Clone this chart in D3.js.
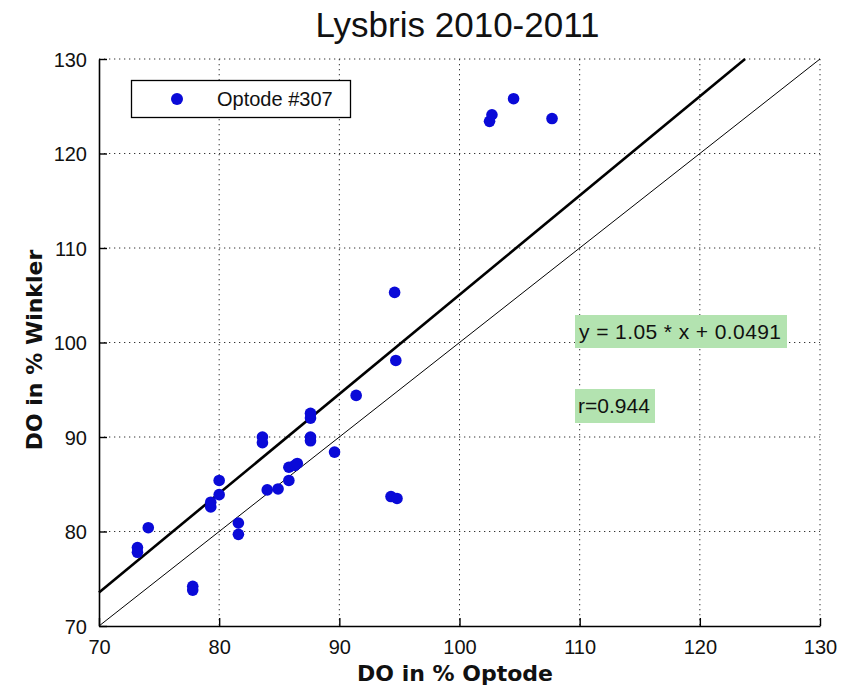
<!DOCTYPE html>
<html>
<head>
<meta charset="utf-8">
<script src="https://cdn.jsdelivr.net/npm/d3@7"></script>
<style>
  html, body { margin: 0; padding: 0; background: #fff; }
  svg { display: block; }
</style>
</head>
<body>
<svg id="chart" width="850" height="688"></svg>
<script>
// ---- data ----
const titleText = "Lysbris 2010-2011";
const xLabel = "DO in % Optode";
const yLabel = "DO in % Winkler";
const seriesName = "Optode #307";
const optodeX = [73.2, 73.2, 74.1, 77.8, 77.8, 79.3, 79.3, 80.0, 80.0, 81.6, 81.6, 83.6, 83.6, 84.0, 84.9, 85.8, 85.8, 86.3, 86.5, 87.6, 87.6, 87.6, 87.6, 89.6, 91.4, 94.3, 94.8, 94.6, 94.7, 102.5, 102.7, 104.5, 107.7];
const winklerY = [78.3, 77.8, 80.4, 74.2, 73.8, 82.6, 83.1, 83.9, 85.4, 80.9, 79.7, 90.0, 89.4, 84.4, 84.5, 85.4, 86.8, 87.0, 87.2, 89.6, 90.0, 92.0, 92.5, 88.4, 94.4, 83.7, 83.5, 105.3, 98.1, 123.4, 124.1, 125.8, 123.7];
const fitSlope = 1.05;
const fitIntercept = 0.0491;
const rValue = 0.944;
const xTicks = [70, 80, 90, 100, 110, 120, 130];
const yTicks = [70, 80, 90, 100, 110, 120, 130];
const xDomain = [70, 130];
const yDomain = [70, 130];

// ---- layout ----
const svg = d3.select("#chart");
const L = 99, R = 820, T = 59, B = 626;
const x = d3.scaleLinear().domain(xDomain).range([L, R]);
const y = d3.scaleLinear().domain(yDomain).range([B, T]);

// grid (dotted)
const grid = svg.append("g");
grid.selectAll("line.gx").data(xTicks.slice(1)).join("line")
  .attr("x1", d => x(d)).attr("x2", d => x(d)).attr("y1", T).attr("y2", B)
  .attr("stroke", "#333").attr("stroke-width", 1).attr("stroke-dasharray", "1.3,3.7");
grid.selectAll("line.gy").data(yTicks.slice(1)).join("line")
  .attr("y1", d => y(d)).attr("y2", d => y(d)).attr("x1", L).attr("x2", R)
  .attr("stroke", "#333").attr("stroke-width", 1).attr("stroke-dasharray", "1.3,3.7");

// axes
const xAxis = d3.axisBottom(x).tickValues(xTicks).tickSizeInner(-8).tickSizeOuter(0).tickPadding(14);
const yAxis = d3.axisLeft(y).tickValues(yTicks).tickSizeInner(-8).tickSizeOuter(0).tickPadding(12);
const gx = svg.append("g").attr("transform", `translate(0,${B})`).call(xAxis);
const gy = svg.append("g").attr("transform", `translate(${L},0)`).call(yAxis);
[gx, gy].forEach(g => {
  g.select(".domain").attr("stroke", "#000").attr("stroke-width", 1.6);
  g.selectAll(".tick line").attr("stroke", "#000").attr("stroke-width", 1.4);
  g.selectAll(".tick text").attr("font-family", "Liberation Sans, Arial, sans-serif")
    .attr("font-size", 20).attr("fill", "#111");
});
gy.selectAll(".tick text").attr("dy", "0.36em");

// fit line (y = slope*x + intercept) and 1:1 line
const fitEndX = (yDomain[1] - fitIntercept) / fitSlope;
const line = d3.line().x(d => x(d[0])).y(d => y(d[1]));
svg.append("path")
  .attr("d", line([[xDomain[0], xDomain[0]], [xDomain[1], xDomain[1]]]))
  .attr("stroke", "#000").attr("stroke-width", 1).attr("fill", "none");
svg.append("path")
  .attr("d", line([[xDomain[0], fitSlope * xDomain[0] + fitIntercept], [fitEndX, yDomain[1]]]))
  .attr("stroke", "#000").attr("stroke-width", 2.6).attr("fill", "none");

// points
svg.append("g").selectAll("circle").data(optodeX.map((v, i) => [v, winklerY[i]])).join("circle")
  .attr("cx", d => x(d[0])).attr("cy", d => y(d[1])).attr("r", 5.8)
  .attr("fill", "#0a0ad8");

// legend
const lg = svg.append("g");
lg.append("rect").attr("x", 131.5).attr("y", 80.5).attr("width", 219).attr("height", 37)
  .attr("fill", "#fff").attr("stroke", "#000").attr("stroke-width", 1.3);
lg.append("circle").attr("cx", 177).attr("cy", 99).attr("r", 6).attr("fill", "#0a0ad8");
lg.append("text").attr("x", 217).attr("y", 106).text(seriesName)
  .attr("font-family", "Liberation Sans, Arial, sans-serif").attr("font-size", 20).attr("fill", "#111");

// annotations
const ann = svg.append("g").attr("font-family", "Liberation Sans, Arial, sans-serif").attr("font-size", 21).attr("fill", "#111");
ann.append("rect").attr("x", 575).attr("y", 315).attr("width", 212).attr("height", 33).attr("fill", "#b3e3b0");
ann.append("text").attr("x", 579).attr("y", 339).attr("textLength", 202)
  .text(`y = ${fitSlope.toFixed(2)} * x + ${fitIntercept}`);
ann.append("rect").attr("x", 575).attr("y", 389).attr("width", 80).attr("height", 34).attr("fill", "#b3e3b0");
ann.append("text").attr("x", 578).attr("y", 413).text(`r=${rValue}`);

// title and labels
svg.append("text").attr("x", 457.5).attr("y", 37).attr("text-anchor", "middle")
  .attr("font-family", "Liberation Sans, Arial, sans-serif").attr("font-size", 35).attr("fill", "#111")
  .text(titleText);
svg.append("text").attr("x", 455).attr("y", 681).attr("text-anchor", "middle")
  .attr("font-family", "DejaVu Sans, sans-serif").attr("font-weight", "bold").attr("font-size", 22).attr("fill", "#111")
  .text(xLabel);
svg.append("text").attr("transform", "translate(42,350) rotate(-90)").attr("text-anchor", "middle")
  .attr("font-family", "DejaVu Sans, sans-serif").attr("font-weight", "bold").attr("font-size", 22).attr("fill", "#111")
  .text(yLabel);
</script>
</body>
</html>
